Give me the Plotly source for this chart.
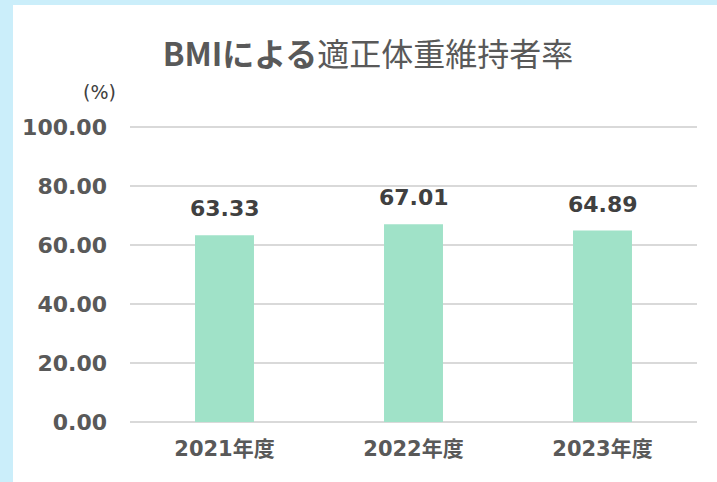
import plotly.graph_objects as go

categories = ["2021年度", "2022年度", "2023年度"]
values = [63.33, 67.01, 64.89]
y_ticks = [0, 20, 40, 60, 80, 100]
y_tick_labels = ["0.00", "20.00", "40.00", "60.00", "80.00", "100.00"]

FONT = "DejaVu Sans, Noto Sans CJK JP, sans-serif"
CJK = "Noto Sans CJK JP, sans-serif"

fig = go.Figure()
fig.add_trace(go.Bar(
    x=categories, y=values,
    marker=dict(color="#a0e2c8", line=dict(width=0)),
    width=0.312,
    hoverinfo="skip",
))

for c, v in zip(categories, values):
    fig.add_annotation(x=c, y=v, text=f"{v:.2f}", showarrow=False,
                       yanchor="bottom", yshift=12,
                       font=dict(family=FONT, size=22, color="#404040", weight="bold"))

L, R, T, B = 130, 20, 126, 60
W, H = 717, 482
pw = W - L - R
ph = H - T - B

fig.add_shape(type="rect", xref="paper", yref="paper",
              x0=(13 - L) / pw, x1=(W - L) / pw,
              y0=-B / ph, y1=(H - B - 5) / ph,
              fillcolor="white", line=dict(width=0), layer="below")

fig.add_annotation(text="(%)", xref="paper", yref="paper",
                   x=(99 - L) / pw, y=(H - B - 92) / ph, showarrow=False,
                   font=dict(family=FONT, size=19, color="#404040"),
                   xanchor="center", yanchor="middle")

fig.update_layout(
    width=W, height=H,
    margin=dict(l=L, r=R, t=T, b=B),
    paper_bgcolor="#cbeefa",
    plot_bgcolor="rgba(0,0,0,0)",
    title=dict(text="<b>BMIによる</b>適正体重維持者率", x=368 / W, xanchor="center",
               y=1 - 55 / H, yanchor="middle",
               font=dict(family=CJK, size=32, color="#595959")),
    showlegend=False,
    xaxis=dict(showgrid=False, showline=False, ticks="",
               tickfont=dict(family=FONT, size=21, color="#595959", weight="bold"),
               ticklabelstandoff=12),
    yaxis=dict(range=[0, 100.35], tickvals=y_ticks, ticktext=y_tick_labels,
               showgrid=True, gridcolor="#d9d9d9", gridwidth=2,
               zeroline=True, zerolinecolor="#d9d9d9", zerolinewidth=2,
               showline=False, ticks="",
               tickfont=dict(family=FONT, size=22, color="#595959", weight="bold"),
               ticklabelstandoff=22),
)

fig.write_html("out.html", config={"displayModeBar": False},
               post_script="document.body.style.margin='0';document.body.style.overflow='hidden';")
